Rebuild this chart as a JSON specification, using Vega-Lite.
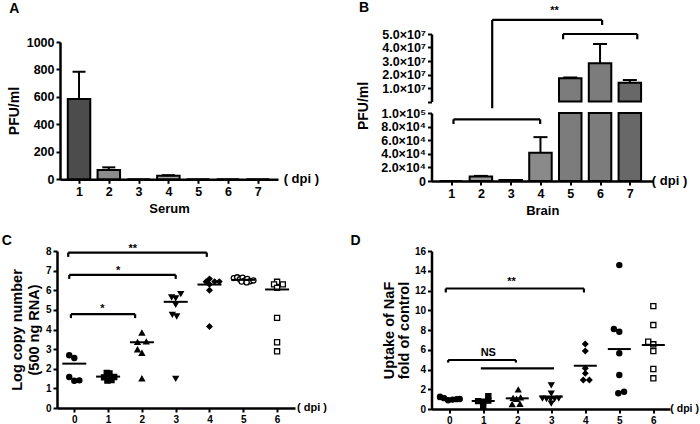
{
  "$schema": "https://vega.github.io/schema/vega-lite/v6.json",
  "autosize": {"type": "none"},
  "padding": {"left": 57, "top": 34, "right": 643, "bottom": 390},
  "background": "white",
  "config": {
    "font": "Liberation Sans",
    "view": {"stroke": null},
    "axis": {
      "domainColor": "black", "domainWidth": 2.5, "tickColor": "black", "tickWidth": 2, "tickSize": 4,
      "labelColor": "black", "labelFont": "Liberation Sans", "labelFontWeight": "bold", "labelPadding": 2,
      "labelOverlap": false, "labelFlush": false,
      "titleColor": "black", "titleFont": "Liberation Sans", "titleFontWeight": "bold", "grid": false
    },
    "text": {"font": "Liberation Sans", "fontWeight": "bold", "color": "black"}
  },
  "datasets": {
    "serum": [
      {"dpi": 1, "mean": 585, "upper": 784},
      {"dpi": 2, "mean": 68, "upper": 87},
      {"dpi": 3, "mean": 0, "upper": 0},
      {"dpi": 4, "mean": 26, "upper": 30},
      {"dpi": 5, "mean": 0, "upper": 0},
      {"dpi": 6, "mean": 0, "upper": 0},
      {"dpi": 7, "mean": 0, "upper": 0}
    ],
    "brain": [
      {"dpi": 1, "mean": 0, "upper": 0},
      {"dpi": 2, "mean": 6500, "upper": 7500},
      {"dpi": 3, "mean": 1500, "upper": 1500},
      {"dpi": 4, "mean": 41600, "upper": 64500},
      {"dpi": 5, "mean": 17200000, "upper": 17800000},
      {"dpi": 6, "mean": 28300000, "upper": 42600000},
      {"dpi": 7, "mean": 13900000, "upper": 15900000}
    ],
    "bracketsBup": [
      {"x": 2.38, "x2": 6.07, "y": 60400000, "y2": 60400000},
      {"x": 2.38, "x2": 2.38, "y": 60400000, "y2": -5000000},
      {"x": 6.07, "x2": 6.07, "y": 60400000, "y2": 56700000},
      {"x": 4.76, "x2": 7.25, "y": 50000000, "y2": 50000000},
      {"x": 4.76, "x2": 4.76, "y": 50000000, "y2": 46100000},
      {"x": 7.25, "x2": 7.25, "y": 50000000, "y2": 46100000}
    ],
    "bracketsBlow": [
      {"x": 1.08, "x2": 3.99, "y": 90700, "y2": 90700},
      {"x": 1.08, "x2": 1.08, "y": 90700, "y2": 83800},
      {"x": 3.99, "x2": 3.99, "y": 90700, "y2": 83800}
    ],
    "sigB": [{"x": 4.47, "y": 66700000, "label": "**"}],
    "rna": [
      {"dpi": 0, "x": -0.15, "value": 2.69}, {"dpi": 0, "x": 0, "value": 2.55}, {"dpi": 0, "x": -0.15, "value": 1.58}, {"dpi": 0, "x": 0, "value": 1.39}, {"dpi": 0, "x": 0.15, "value": 1.41},
      {"dpi": 1, "x": 0.88, "value": 1.56}, {"dpi": 1, "x": 0.96, "value": 1.78}, {"dpi": 1, "x": 1.04, "value": 1.76}, {"dpi": 1, "x": 0.98, "value": 1.4}, {"dpi": 1, "x": 1.1, "value": 1.42}, {"dpi": 1, "x": 1.18, "value": 1.58},
      {"dpi": 2, "x": 2, "value": 3.83}, {"dpi": 2, "x": 1.87, "value": 3.35}, {"dpi": 2, "x": 2.13, "value": 3.38}, {"dpi": 2, "x": 1.87, "value": 2.98}, {"dpi": 2, "x": 2, "value": 2.8}, {"dpi": 2, "x": 2, "value": 1.5},
      {"dpi": 3, "x": 2.88, "value": 5.65}, {"dpi": 3, "x": 3.0, "value": 5.6}, {"dpi": 3, "x": 3.15, "value": 5.82}, {"dpi": 3, "x": 3.0, "value": 5.27}, {"dpi": 3, "x": 2.9, "value": 4.76}, {"dpi": 3, "x": 3.03, "value": 4.68}, {"dpi": 3, "x": 3.0, "value": 1.5},
      {"dpi": 4, "x": 4, "value": 6.58}, {"dpi": 4, "x": 3.9, "value": 6.43}, {"dpi": 4, "x": 4.15, "value": 6.44}, {"dpi": 4, "x": 4.29, "value": 6.44}, {"dpi": 4, "x": 4, "value": 6.3}, {"dpi": 4, "x": 4, "value": 6.0}, {"dpi": 4, "x": 4, "value": 4.15},
      {"dpi": 5, "x": 4.72, "value": 6.62}, {"dpi": 5, "x": 4.82, "value": 6.66}, {"dpi": 5, "x": 4.9, "value": 6.56}, {"dpi": 5, "x": 4.98, "value": 6.64}, {"dpi": 5, "x": 5.05, "value": 6.5}, {"dpi": 5, "x": 5.12, "value": 6.58}, {"dpi": 5, "x": 5.2, "value": 6.46}, {"dpi": 5, "x": 5.3, "value": 6.5}, {"dpi": 5, "x": 4.95, "value": 6.44}, {"dpi": 5, "x": 5.1, "value": 6.4},
      {"dpi": 6, "x": 6, "value": 6.43}, {"dpi": 6, "x": 5.91, "value": 6.3}, {"dpi": 6, "x": 6.17, "value": 6.3}, {"dpi": 6, "x": 6, "value": 6.12}, {"dpi": 6, "x": 6, "value": 4.59}, {"dpi": 6, "x": 6, "value": 3.35}, {"dpi": 6, "x": 6, "value": 2.89}
    ],
    "rnaMean": [
      {"dpi": 0, "mean": 2.26}, {"dpi": 1, "mean": 1.6}, {"dpi": 2, "mean": 3.35}, {"dpi": 3, "mean": 5.41}, {"dpi": 4, "mean": 6.29}, {"dpi": 5, "mean": 6.53}, {"dpi": 6, "mean": 6.04}
    ],
    "bracketsC": [
      {"x": -0.18, "x2": 3.92, "y": 7.92, "y2": 7.92}, {"x": -0.18, "x2": -0.18, "y": 7.92, "y2": 7.7}, {"x": 3.92, "x2": 3.92, "y": 7.92, "y2": 7.7},
      {"x": -0.15, "x2": 3.0, "y": 6.78, "y2": 6.78}, {"x": -0.15, "x2": -0.15, "y": 6.78, "y2": 6.58}, {"x": 3.0, "x2": 3.0, "y": 6.78, "y2": 6.58},
      {"x": -0.1, "x2": 1.8, "y": 4.78, "y2": 4.78}, {"x": -0.1, "x2": -0.1, "y": 4.78, "y2": 4.58}, {"x": 1.8, "x2": 1.8, "y": 4.78, "y2": 4.58}
    ],
    "sigC": [
      {"x": 1.73, "y": 8.12, "label": "**"}, {"x": 1.3, "y": 6.99, "label": "*"}, {"x": 0.83, "y": 5.04, "label": "*"}
    ],
    "naf": [
      {"dpi": 0, "x": -0.27, "value": 1.25}, {"dpi": 0, "x": -0.15, "value": 1.1}, {"dpi": 0, "x": -0.03, "value": 0.88}, {"dpi": 0, "x": 0.1, "value": 0.95}, {"dpi": 0, "x": 0.22, "value": 1.0}, {"dpi": 0, "x": 0.31, "value": 1.02},
      {"dpi": 1, "x": 1.15, "value": 1.3}, {"dpi": 1, "x": 0.85, "value": 0.8}, {"dpi": 1, "x": 1.0, "value": 0.75}, {"dpi": 1, "x": 1.15, "value": 0.85}, {"dpi": 1, "x": 1.0, "value": 0.22},
      {"dpi": 2, "x": 2.03, "value": 1.95}, {"dpi": 2, "x": 1.88, "value": 1.1}, {"dpi": 2, "x": 2.1, "value": 1.15}, {"dpi": 2, "x": 1.85, "value": 0.47}, {"dpi": 2, "x": 2.08, "value": 0.5}, {"dpi": 2, "x": 1.98, "value": 1.0},
      {"dpi": 3, "x": 3.0, "value": 2.43}, {"dpi": 3, "x": 3.0, "value": 1.59}, {"dpi": 3, "x": 2.74, "value": 1.08}, {"dpi": 3, "x": 2.86, "value": 1.05}, {"dpi": 3, "x": 2.98, "value": 1.02}, {"dpi": 3, "x": 3.1, "value": 1.05}, {"dpi": 3, "x": 3.22, "value": 1.08}, {"dpi": 3, "x": 3.0, "value": 0.58},
      {"dpi": 4, "x": 4, "value": 6.58}, {"dpi": 4, "x": 4, "value": 5.87}, {"dpi": 4, "x": 4, "value": 4.12}, {"dpi": 4, "x": 4, "value": 3.61}, {"dpi": 4, "x": 3.94, "value": 2.94}, {"dpi": 4, "x": 4.12, "value": 2.94},
      {"dpi": 5, "x": 5, "value": 14.57}, {"dpi": 5, "x": 4.84, "value": 8.1}, {"dpi": 5, "x": 5.0, "value": 7.83}, {"dpi": 5, "x": 5, "value": 5.64}, {"dpi": 5, "x": 5, "value": 3.44}, {"dpi": 5, "x": 4.97, "value": 1.59}, {"dpi": 5, "x": 5.14, "value": 1.75},
      {"dpi": 6, "x": 6, "value": 10.42}, {"dpi": 6, "x": 6, "value": 8.5}, {"dpi": 6, "x": 5.85, "value": 6.81}, {"dpi": 6, "x": 6, "value": 6.55}, {"dpi": 6, "x": 6, "value": 5.87}, {"dpi": 6, "x": 6, "value": 4.05}, {"dpi": 6, "x": 6, "value": 3.11}
    ],
    "nafMean": [
      {"dpi": 0, "mean": 1.0}, {"dpi": 1, "mean": 0.81}, {"dpi": 2, "mean": 1.08}, {"dpi": 3, "mean": 1.25}, {"dpi": 4, "mean": 4.38}, {"dpi": 5, "mean": 6.07}, {"dpi": 6, "mean": 6.48}
    ],
    "bracketsD": [
      {"x": -0.1, "x2": 3.96, "y": 12.2, "y2": 12.2}, {"x": -0.1, "x2": -0.1, "y": 12.2, "y2": 11.8}, {"x": 3.96, "x2": 3.96, "y": 12.2, "y2": 11.8},
      {"x": -0.03, "x2": 1.96, "y": 4.96, "y2": 4.96}, {"x": -0.03, "x2": -0.03, "y": 4.96, "y2": 4.7}, {"x": 1.96, "x2": 1.96, "y": 4.96, "y2": 4.7},
      {"x": 0.93, "x2": 3.08, "y": 4.12, "y2": 4.12}
    ],
    "sigD": [
      {"x": 1.83, "y": 12.9, "label": "**"}, {"x": 1.15, "y": 5.64, "label": "NS"}
    ]
  },
  "columns": 2,
  "align": "each",
  "bounds": "flush",
  "spacing": {"row": 70, "column": 136.5},
  "resolve": {"scale": {"fill": "independent", "shape": "independent"}},
  "concat": [
    {
      "width": 221,
      "height": 145.3,
      "layer": [
        {
          "data": {"name": "serum"},
          "mark": {"type": "bar", "size": 22.5, "stroke": "black", "strokeWidth": 2},
          "encoding": {
            "x": {"field": "dpi", "type": "quantitative", "scale": {"domain": [0.529, 7.513], "range": [3, 221], "nice": false, "zero": false},
              "axis": {"values": [1, 2, 3, 4, 5, 6, 7], "tickCount": 50, "format": "d", "labelOverlap": false, "title": "Serum", "titleFontSize": 13, "titlePadding": 5, "labelFontSize": 12.5}},
            "y": {"field": "mean", "type": "quantitative", "scale": {"domain": [0, 1000], "range": [145.3, 8], "nice": false},
              "axis": {"values": [0, 200, 400, 600, 800, 1000], "tickCount": 50, "format": "d", "labelOverlap": false, "offset": -3, "labelFontSize": 12.5, "title": "PFU/ml", "titleFontSize": 14, "titleX": -46, "titleY": 76.6, "titleBaseline": "middle", "titleAlign": "center"}},
            "fill": {"field": "dpi", "type": "nominal", "scale": {"domain": [1, 2, 3, 4, 5, 6, 7], "range": ["#4c4c4c", "#8c8c8c", "#a0a0a0", "#a8a8a8", "#a0a0a0", "#a0a0a0", "#a0a0a0"]}, "legend": null}
          }
        },
        {
          "data": {"name": "serum"},
          "transform": [{"filter": "datum.upper > datum.mean"}],
          "mark": {"type": "rule", "strokeWidth": 2, "color": "black"},
          "encoding": {"x": {"field": "dpi", "type": "quantitative"}, "y": {"field": "mean", "type": "quantitative"}, "y2": {"field": "upper"}}
        },
        {
          "data": {"name": "serum"},
          "transform": [{"filter": "datum.upper > datum.mean"}],
          "mark": {"type": "tick", "orient": "horizontal", "size": 13, "thickness": 2, "color": "black", "opacity": 1},
          "encoding": {"x": {"field": "dpi", "type": "quantitative"}, "y": {"field": "upper", "type": "quantitative"}}
        },
        {
          "data": {"values": [{}]},
          "mark": {"type": "text", "align": "left", "baseline": "middle", "fontSize": 13},
          "encoding": {"x": {"datum": 7.87}, "y": {"datum": 0}, "text": {"value": "( dpi )"}}
        },
        {
          "data": {"values": [{}]},
          "mark": {"type": "text", "align": "left", "baseline": "middle", "fontSize": 14},
          "encoding": {"x": {"datum": -1.34}, "y": {"datum": 1240}, "text": {"value": "A"}}
        }
      ]
    },
    {
      "width": 221.5,
      "height": 147,
      "resolve": {"scale": {"y": "independent"}, "axis": {"y": "independent"}},
      "layer": [
        {
          "layer": [
            {
              "data": {"name": "brain"},
              "mark": {"type": "bar", "size": 22.5, "stroke": "black", "strokeWidth": 2},
              "encoding": {
                "x": {"field": "dpi", "type": "quantitative", "scale": {"domain": [0.51, 7.61], "nice": false, "zero": false},
                  "axis": {"values": [1, 2, 3, 4, 5, 6, 7], "tickCount": 50, "format": "d", "labelOverlap": false, "title": "Brain", "titleFontSize": 13, "titlePadding": 5, "labelFontSize": 12.5}},
                "y": {"field": "mean", "type": "quantitative", "scale": {"domain": [0, 100000], "range": [147, 79], "nice": false, "clamp": true},
                  "axis": {"orient": "left", "values": [0, 20000, 40000, 60000, 80000, 100000], "tickCount": 50, "labelOverlap": false, "labelExpr": "datum.value == 0 ? '0' : datum.value >= 100000 ? '1.0×10⁵' : format(datum.value / 10000, '.1f') + '×10⁴'", "labelFontSize": 12.5, "title": "PFU/ml", "titleFontSize": 14, "titleX": -68.5, "titleY": 71.5, "titleBaseline": "middle", "titleAlign": "center"}},
                "fill": {"field": "dpi", "type": "nominal", "scale": {"domain": [1, 2, 3, 4, 5, 6, 7], "range": ["#a0a0a0", "#9a9a9a", "#9a9a9a", "#8a8a8a", "#7c7c7c", "#7c7c7c", "#686868"]}, "legend": null}
              }
            },
            {
              "data": {"name": "brain"},
              "transform": [{"filter": "datum.dpi <= 4 && datum.upper > datum.mean"}],
              "mark": {"type": "rule", "strokeWidth": 2, "color": "black"},
              "encoding": {"x": {"field": "dpi", "type": "quantitative"}, "y": {"field": "mean", "type": "quantitative"}, "y2": {"field": "upper"}}
            },
            {
              "data": {"name": "brain"},
              "transform": [{"filter": "datum.dpi <= 4 && datum.upper > datum.mean"}],
              "mark": {"type": "tick", "orient": "horizontal", "size": 14, "thickness": 2, "color": "black", "opacity": 1},
              "encoding": {"x": {"field": "dpi", "type": "quantitative"}, "y": {"field": "upper", "type": "quantitative"}}
            },
            {
              "data": {"name": "bracketsBlow"},
              "mark": {"type": "rule", "strokeWidth": 2.2, "color": "black"},
              "encoding": {"x": {"field": "x", "type": "quantitative"}, "x2": {"field": "x2"}, "y": {"field": "y", "type": "quantitative"}, "y2": {"field": "y2"}}
            },
            {
              "data": {"values": [{}]},
              "mark": {"type": "text", "align": "left", "baseline": "middle", "fontSize": 13},
              "encoding": {"x": {"datum": 7.74}, "y": {"datum": 0}, "text": {"value": "( dpi )"}}
            }
          ]
        },
        {
          "layer": [
            {
              "data": {"name": "brain"},
              "transform": [{"filter": "datum.dpi >= 5"}],
              "mark": {"type": "bar", "size": 22.5, "stroke": "black", "strokeWidth": 2},
              "encoding": {
                "x": {"field": "dpi", "type": "quantitative"},
                "y": {"field": "mean", "type": "quantitative", "scale": {"domain": [0, 50000000], "range": [67.5, 0], "nice": false},
                  "axis": {"orient": "left", "values": [0, 10000000, 20000000, 30000000, 40000000, 50000000], "tickCount": 50, "labelOverlap": false, "labelExpr": "datum.value == 0 ? '' : format(datum.value / 10000000, '.1f') + '×10⁷'", "labelFontSize": 12.5, "title": null}},
                "fill": {"field": "dpi", "type": "nominal", "scale": {"domain": [1, 2, 3, 4, 5, 6, 7], "range": ["#a0a0a0", "#9a9a9a", "#9a9a9a", "#8a8a8a", "#7c7c7c", "#7c7c7c", "#686868"]}, "legend": null}
              }
            },
            {
              "data": {"name": "brain"},
              "transform": [{"filter": "datum.dpi >= 5 && datum.upper > datum.mean"}],
              "mark": {"type": "rule", "strokeWidth": 2, "color": "black"},
              "encoding": {"x": {"field": "dpi", "type": "quantitative"}, "y": {"field": "mean", "type": "quantitative"}, "y2": {"field": "upper"}}
            },
            {
              "data": {"name": "brain"},
              "transform": [{"filter": "datum.dpi >= 5 && datum.upper > datum.mean"}],
              "mark": {"type": "tick", "orient": "horizontal", "size": 14, "thickness": 2, "color": "black", "opacity": 1},
              "encoding": {"x": {"field": "dpi", "type": "quantitative"}, "y": {"field": "upper", "type": "quantitative"}}
            },
            {
              "data": {"name": "bracketsBup"},
              "mark": {"type": "rule", "strokeWidth": 2.2, "color": "black"},
              "encoding": {"x": {"field": "x", "type": "quantitative"}, "x2": {"field": "x2"}, "y": {"field": "y", "type": "quantitative"}, "y2": {"field": "y2"}}
            },
            {
              "data": {"name": "sigB"},
              "mark": {"type": "text", "align": "center", "baseline": "middle", "fontSize": 11},
              "encoding": {"x": {"field": "x", "type": "quantitative"}, "y": {"field": "y", "type": "quantitative"}, "text": {"field": "label"}}
            },
            {
              "data": {"values": [{}]},
              "mark": {"type": "text", "align": "left", "baseline": "middle", "fontSize": 14},
              "encoding": {"x": {"datum": -2.09}, "y": {"datum": 68900000}, "text": {"value": "B"}}
            }
          ]
        }
      ]
    },
    {
      "width": 238,
      "height": 157,
      "layer": [
        {
          "data": {"name": "rna"},
          "mark": {"type": "point", "filled": true, "size": 26, "stroke": "black", "strokeWidth": 1.3, "opacity": 1},
          "encoding": {
            "x": {"field": "x", "type": "quantitative", "scale": {"domain": [-0.512, 6.53], "nice": false, "zero": false},
              "axis": {"values": [0, 1, 2, 3, 4, 5, 6], "tickCount": 50, "format": "d", "labelOverlap": false, "title": null, "labelFontSize": 10}},
            "y": {"field": "value", "type": "quantitative", "scale": {"domain": [0, 8], "nice": false},
              "axis": {"values": [0, 1, 2, 3, 4, 5, 6, 7, 8], "tickCount": 50, "format": "d", "labelOverlap": false, "labelFontSize": 10, "title": ["Log copy number", "(500 ng RNA)"], "titleFontSize": 14.5, "titleLineHeight": 17, "titleX": -40, "titleY": 78.5, "titleBaseline": "middle", "titleAlign": "center"}},
            "shape": {"field": "dpi", "type": "nominal", "scale": {"domain": [0, 1, 2, 3, 4, 5, 6], "range": ["circle", "square", "triangle-up", "triangle-down", "diamond", "circle", "square"]}, "legend": null},
            "fill": {"field": "dpi", "type": "nominal", "scale": {"domain": [0, 1, 2, 3, 4, 5, 6], "range": ["black", "black", "black", "black", "black", "white", "white"]}, "legend": null}
          }
        },
        {
          "data": {"name": "rnaMean"},
          "mark": {"type": "tick", "orient": "horizontal", "size": 24, "thickness": 2, "color": "black", "opacity": 1},
          "encoding": {"x": {"field": "dpi", "type": "quantitative"}, "y": {"field": "mean", "type": "quantitative"}}
        },
        {
          "data": {"name": "bracketsC"},
          "mark": {"type": "rule", "strokeWidth": 2.2, "color": "black"},
          "encoding": {"x": {"field": "x", "type": "quantitative"}, "x2": {"field": "x2"}, "y": {"field": "y", "type": "quantitative"}, "y2": {"field": "y2"}}
        },
        {
          "data": {"name": "sigC"},
          "mark": {"type": "text", "align": "center", "baseline": "middle", "fontSize": 11},
          "encoding": {"x": {"field": "x", "type": "quantitative"}, "y": {"field": "y", "type": "quantitative"}, "text": {"field": "label"}}
        },
        {
          "data": {"values": [{}]},
          "mark": {"type": "text", "align": "left", "baseline": "middle", "fontSize": 11},
          "encoding": {"x": {"datum": 6.59}, "y": {"datum": 0}, "text": {"value": "( dpi )"}}
        },
        {
          "data": {"values": [{}]},
          "mark": {"type": "text", "align": "left", "baseline": "middle", "fontSize": 14},
          "encoding": {"x": {"datum": -2.15}, "y": {"datum": 8.52}, "text": {"value": "C"}}
        }
      ]
    },
    {
      "width": 238.5,
      "height": 158,
      "layer": [
        {
          "data": {"name": "naf"},
          "mark": {"type": "point", "filled": true, "size": 26, "stroke": "black", "strokeWidth": 1.3, "opacity": 1},
          "encoding": {
            "x": {"field": "x", "type": "quantitative", "scale": {"domain": [-0.52, 6.49], "nice": false, "zero": false},
              "axis": {"values": [0, 1, 2, 3, 4, 5, 6], "tickCount": 50, "format": "d", "labelOverlap": false, "title": null, "labelFontSize": 10}},
            "y": {"field": "value", "type": "quantitative", "scale": {"domain": [0, 16], "nice": false},
              "axis": {"values": [0, 2, 4, 6, 8, 10, 12, 14, 16], "tickCount": 50, "format": "d", "labelOverlap": false, "labelFontSize": 10, "title": ["Uptake of NaF", "fold of control"], "titleFontSize": 14.5, "titleLineHeight": 14.5, "titleX": -42, "titleY": 79, "titleBaseline": "middle", "titleAlign": "center"}},
            "shape": {"field": "dpi", "type": "nominal", "scale": {"domain": [0, 1, 2, 3, 4, 5, 6], "range": ["circle", "square", "triangle-up", "triangle-down", "diamond", "circle", "square"]}, "legend": null},
            "fill": {"field": "dpi", "type": "nominal", "scale": {"domain": [0, 1, 2, 3, 4, 5, 6], "range": ["black", "black", "black", "black", "black", "black", "white"]}, "legend": null}
          }
        },
        {
          "data": {"name": "nafMean"},
          "mark": {"type": "tick", "orient": "horizontal", "size": 23, "thickness": 2, "color": "black", "opacity": 1},
          "encoding": {"x": {"field": "dpi", "type": "quantitative"}, "y": {"field": "mean", "type": "quantitative"}}
        },
        {
          "data": {"name": "bracketsD"},
          "mark": {"type": "rule", "strokeWidth": 2.2, "color": "black"},
          "encoding": {"x": {"field": "x", "type": "quantitative"}, "x2": {"field": "x2"}, "y": {"field": "y", "type": "quantitative"}, "y2": {"field": "y2"}}
        },
        {
          "data": {"name": "sigD"},
          "mark": {"type": "text", "align": "center", "baseline": "middle", "fontSize": 11},
          "encoding": {"x": {"field": "x", "type": "quantitative"}, "y": {"field": "y", "type": "quantitative"}, "text": {"field": "label"}}
        },
        {
          "data": {"values": [{}]},
          "mark": {"type": "text", "align": "left", "baseline": "middle", "fontSize": 10.5},
          "encoding": {"x": {"datum": 6.5}, "y": {"datum": 0}, "text": {"value": "( dpi )"}}
        },
        {
          "data": {"values": [{}]},
          "mark": {"type": "text", "align": "left", "baseline": "middle", "fontSize": 14},
          "encoding": {"x": {"datum": -2.9}, "y": {"datum": 17.0}, "text": {"value": "D"}}
        }
      ]
    }
  ]
}
